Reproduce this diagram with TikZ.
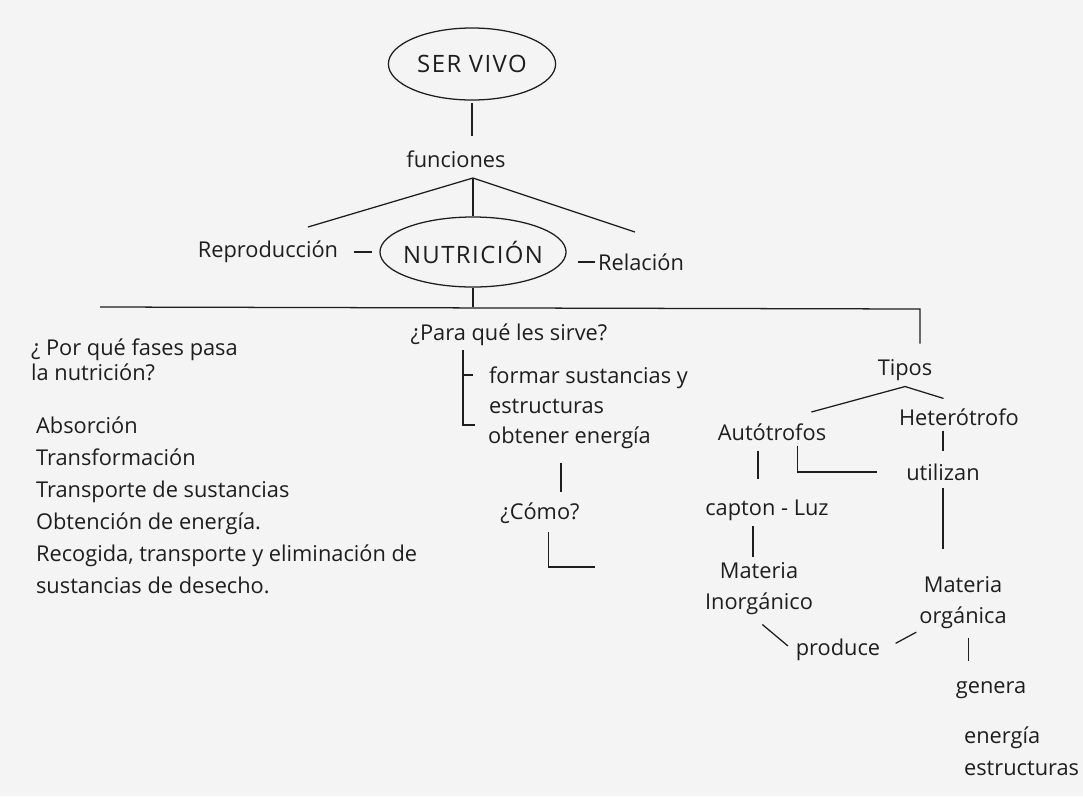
\documentclass[tikz,border=0pt]{standalone}
\usepackage{fontspec}
\setmainfont{Open Sans}
\usetikzlibrary{shapes.geometric}
\definecolor{pGray}{HTML}{F4F4F4}
\definecolor{pInk}{HTML}{1E1E1E}

\begin{document}
\begin{tikzpicture}[x=0.025cm, y=-0.025cm,
  txt/.style={font=\fontsize{15.5}{18}\selectfont, text=pInk, inner sep=2pt},
  list/.style={txt, align=left, anchor=west, font=\fontsize{15.5}{#1}\selectfont},
  list/.default=22.7pt,
  pila/.style={txt, align=center, font=\fontsize{15.5}{22}\selectfont},
  oval/.style={ellipse, draw=pInk, line width=0.9pt, inner sep=0pt, inner xsep=-8pt,
               text=pInk, font=\fontsize{17}{20}\selectfont\addfontfeatures{LetterSpace=6}},
  link/.style={draw=pInk, line width=0.9pt},
]
  \fill[pGray] (0,0) rectangle (1083,796);
  \useasboundingbox (0,0) rectangle (1083,796);

  % tronco
  \node[oval, minimum width=4.18cm, minimum height=1.8cm] (ser) at (472,64) {SER VIVO};
  \node[txt] (fun) at (456,159) {funciones};
  \node[oval, minimum width=4.65cm, minimum height=1.75cm] (nut) at (473,252) {NUTRICIÓN};
  \node[txt] (rep) at (268,252) {Reproducción};
  \node[txt] (rel) at (641,262) {Relación};
  \coordinate (fb) at (473,178);
  \coordinate (repT) at (308,227);
  \coordinate (relT) at (635,232);
  \coordinate (hl) at (100,307);
  \coordinate (hr) at (920,309);

  \draw[link, shorten <=2pt, shorten >=8pt] (ser.south) -- (ser.south |- fun.north);
  \draw[link] (repT) -- (fb) -- (relT);
  \draw[link] (fb) -- (nut.north);
  \draw[link, shorten <=9pt, shorten >=5.5pt] (rep.east) -- (nut.west);
  \draw[link, shorten <=8pt] (nut.east |- rel.west) -- (rel.west);
  \draw[link] (nut.south) -- (nut.south |- hl);

  % fases
  \node[list=17.7pt] (fase) at (28,360) {¿ Por qué fases pasa\\la nutrición?};
  \node[list] (pasos) at (33,505) {Absorción\\Transformación\\Transporte de sustancias\\
    Obtención de energía.\\Recogida, transporte y eliminación de\\sustancias de desecho.};

  % para que sirve
  \node[txt] (para) at (509,335) {¿Para qué les sirve?};
  \node[list=21.3pt] (forma) at (486,390) {formar sustancias y\\estructuras};
  \node[list] (obt) at (485,438) {obtener energía};
  \node[txt] (como) at (540,513) {¿Cómo?};
  \coordinate (brT) at (463,350);
  \coordinate (brM) at (463,375);
  \coordinate (brB) at (463,425);
  \coordinate (comoE) at (595,567);

  \draw[link, shorten >=7pt] (brT) -- (brB) -- (brB -| obt.west);
  \draw[link, shorten >=9pt] (brM) -- (brM -| forma.west);
  \draw[link, shorten <=8pt, shorten >=5pt] ([xshift=-6pt]obt.south) -- ([xshift=-6pt]obt.south |- como.north);
  \draw[link, shorten <=4pt] ([xshift=6pt]como.south) |- (comoE);

  % tipos
  \node[txt] (tipos) at (905,370) {Tipos};
  \node[txt] (auto) at (772,432) {Autótrofos};
  \node[txt] (hete) at (959,417) {Heterótrofo};
  \node[txt] (util) at (943,472) {utilizan};
  \node[txt] (capta) at (767,510) {capton - Luz};
  \node[pila] (minor) at (759,589) {Materia\\Inorgánico};
  \node[pila] (morg) at (963,603) {Materia\\orgánica};
  \node[txt] (prod) at (838,650) {produce};
  \node[txt] (gen) at (991,690) {genera};
  \node[list] (prods) at (961,751) {energía\\estructuras};

  \draw[link, shorten >=9pt] (hl) -- (hr) -- (hr |- tipos.north);
  \draw[link] ([xshift=28pt,yshift=6pt]auto.north) -- ([yshift=-2pt]tipos.south)
    -- ([xshift=-11pt,yshift=5pt]hete.north);
  \draw[link, shorten <=1.5pt, shorten >=7pt] (util.north |- hete.south) -- (util.north);
  \draw[link, shorten <=3pt, shorten >=18pt] (util.south) -- (util.south |- morg.north);
  \draw[link, shorten <=1.5pt, shorten >=18.5pt] ([xshift=18pt]auto.south) |- (util.west);
  \draw[link, shorten <=5pt, shorten >=12.5pt] ([xshift=-10pt]auto.south) -- ([xshift=-10pt]auto.south |- capta.north);
  \draw[link, shorten <=2pt, shorten >=2pt] ([xshift=-10pt]capta.south) -- ([xshift=-10pt]capta.south |- minor.north);
  \draw[link, shorten <=7pt, shorten >=4.5pt] ([xshift=-3pt]minor.south) -- (prod.west);
  \draw[link, shorten <=10pt] (prod.east) -- (morg.south west);
  \draw[link, shorten <=4pt, shorten >=12.5pt] ([xshift=4pt]morg.south) -- ([xshift=4pt]morg.south |- gen.north);
\end{tikzpicture}
\end{document}
